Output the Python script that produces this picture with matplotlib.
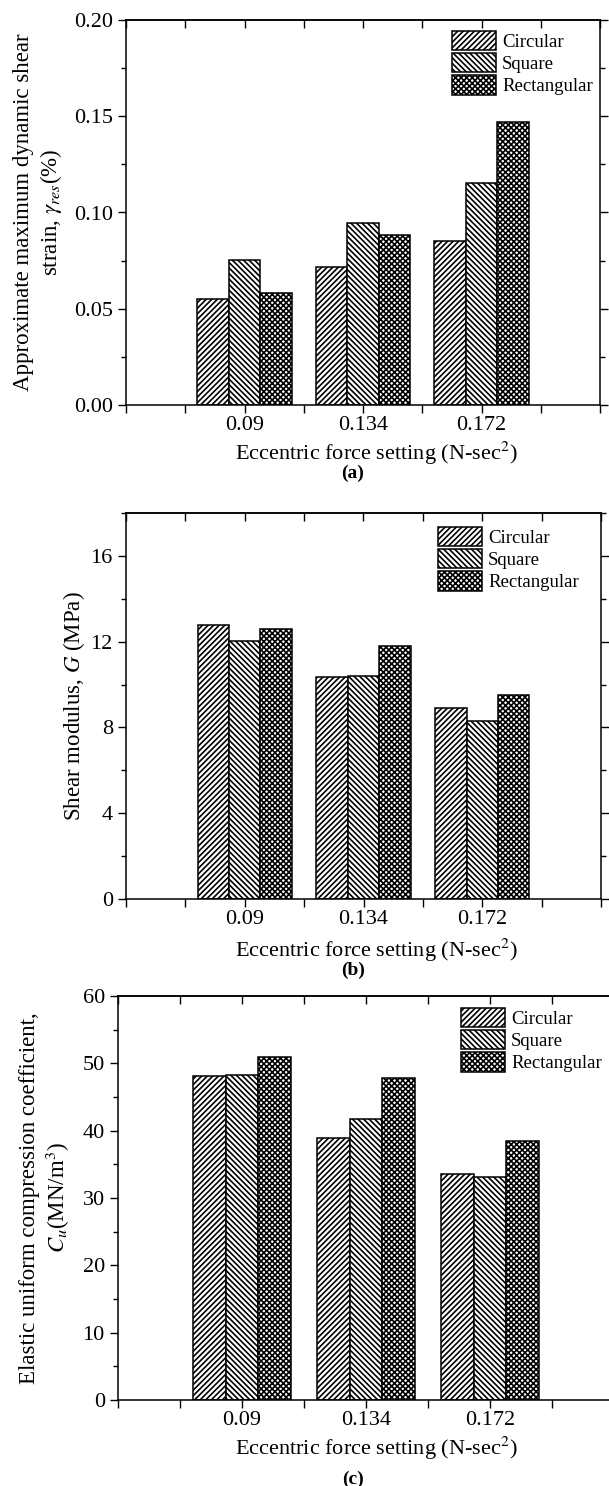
import numpy as np
import matplotlib
matplotlib.use('Agg')
import matplotlib.pyplot as plt
from matplotlib.ticker import MultipleLocator

# eccentric force settings (N-sec^2)
categories = ['0.09', '0.134', '0.172']
series = ['Circular', 'Square', 'Rectangular']

# (a) approximate maximum dynamic shear strain (%)
strain_circular = [0.055, 0.0718, 0.0853]
strain_square = [0.0754, 0.0948, 0.1152]
strain_rect = [0.0583, 0.0882, 0.1471]

# (b) shear modulus G (MPa)
shear_circular = [12.76, 10.35, 8.89]
shear_square = [12.03, 10.41, 8.28]
shear_rect = [12.59, 11.81, 9.49]

# (c) elastic uniform compression coefficient Cu (MN/m^3)
cu_circular = [48.07, 38.96, 33.5]
cu_square = [48.2, 41.7, 33.1]
cu_rect = [50.9, 47.8, 38.4]

plt.rcParams['font.family'] = ['Liberation Serif', 'DejaVu Serif']
plt.rcParams['mathtext.fontset'] = 'stix'
plt.rcParams['font.size'] = 16
plt.rcParams['hatch.linewidth'] = 1.2
plt.rcParams['axes.linewidth'] = 1.1

W, H = 609, 1486
fig = plt.figure(figsize=(W / 100, H / 100), dpi=100)

hatches = ['//////', '\\\\\\\\\\\\', 'xxxxxx']
bw = 0.265

# pixel boxes: left, top, right, bottom
panels = [
	dict(box=(126, 20, 600, 405), vals=[strain_circular, strain_square, strain_rect],
		ylim=0.20, major=0.05, minor=0.025, fmt='%.2f',
		ylabel='Approximate maximum dynamic shear\nstrain, $\\gamma_{res}$(%)', ylx=-0.131,
		leg=(452, 31), xl=453, tag='(a)', tagy=473),
	dict(box=(126, 513, 601, 899), vals=[shear_circular, shear_square, shear_rect],
		ylim=18, major=4, minor=2, fmt='%d',
		ylabel='Shear modulus, $G$ (MPa)', ylx=-0.082,
		leg=(438, 527), xl=950, tag='(b)', tagy=970),
	dict(box=(118, 996, 614, 1400), vals=[cu_circular, cu_square, cu_rect],
		ylim=60, major=10, minor=5, fmt='%d',
		ylabel='Elastic uniform compression coefficient,\n$C_u$(MN/m$^3$)', ylx=-0.093,
		leg=(461, 1008), xl=1448, tag='(c)', tagy=1479),
]

x = np.arange(1, len(categories) + 1)
for p in panels:
	l, t, r, b = p['box']
	ax = fig.add_axes([l / W, 1 - b / H, (r - l) / W, (b - t) / H])
	for i, vals in enumerate(p['vals']):
		ax.bar(x + (i - 1) * bw, vals, bw, color='white', edgecolor='black',
			linewidth=1.1, hatch=hatches[i], label=series[i])
	ax.set_xlim(0, 4)
	ax.set_ylim(0, p['ylim'])
	ax.set_xticks(x)
	ax.set_xticklabels(categories)
	ax.set_xticks([0, 0.5, 1.5, 2.5, 3.5, 4], minor=True)
	ax.yaxis.set_major_locator(MultipleLocator(p['major']))
	ax.yaxis.set_minor_locator(MultipleLocator(p['minor']))
	ax.yaxis.set_major_formatter(plt.FormatStrFormatter(p['fmt']))
	ax.tick_params(axis='x', which='both', direction='out', length=6, width=1.0, pad=2)
	ax.tick_params(axis='y', which='major', direction='out', length=6, width=1.0, pad=3.5, right=True)
	ax.tick_params(axis='y', which='minor', direction='out', length=3.5, width=1.0, right=True)
	top = ax.secondary_xaxis('top')
	top.set_xticks(np.arange(0, 4.01, 0.5))
	top.tick_params(direction='in', length=6, width=1.0, labeltop=False)
	ax.set_ylabel(p['ylabel'], fontsize=16.5)
	ax.yaxis.set_label_coords(p['ylx'], 0.5)
	fig.text(376 / W, 1 - p['xl'] / H, 'Eccentric force setting (N-sec$^2$)',
		ha='center', va='center')
	fig.text(353 / W, 1 - p['tagy'] / H, p['tag'], ha='center', va='center',
		fontweight='bold', fontsize=14)
	lx, ly = p['leg']
	ax.legend(loc='upper left', bbox_to_anchor=(lx / W, 1 - ly / H),
		bbox_transform=fig.transFigure, frameon=False, borderpad=0,
		borderaxespad=0, fontsize=13.5, handlelength=2.35, handleheight=1.2,
		labelspacing=0.12, handletextpad=0.32)

fig.savefig('out.png', dpi=100)
